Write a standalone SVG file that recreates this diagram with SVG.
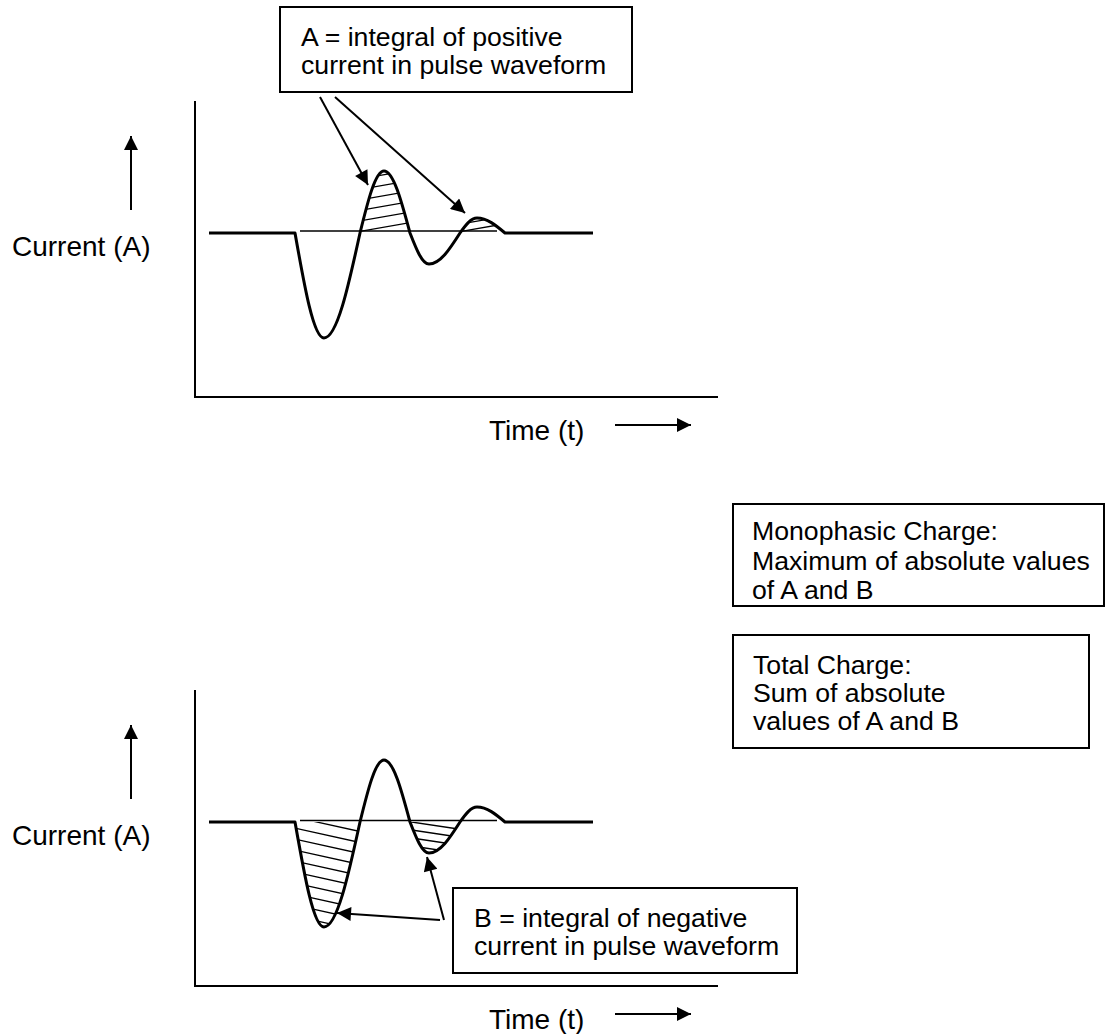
<svg xmlns="http://www.w3.org/2000/svg" width="1105" height="1034" viewBox="0 0 1105 1034">
<style>
text{font-family:"Liberation Sans",Arial,sans-serif;font-size:26.67px;fill:#000}
.ax{font-size:28px}
.box{fill:#fff;stroke:#000;stroke-width:2}
.axis{stroke:#000;stroke-width:2;fill:none}
.wave{stroke:#000;stroke-width:3;fill:none;stroke-linejoin:round}
.thin{stroke:#000;stroke-width:1.3;fill:none}
.hatch{stroke:#000;stroke-width:1.3}
.arr{stroke:#000;stroke-width:2;fill:none}
</style>
<defs>
<marker id="ahL" viewBox="0 0 10 10" refX="10" refY="5" markerWidth="17" markerHeight="14" markerUnits="userSpaceOnUse" orient="auto">
<path d="M0,0 L10,5 L0,10 Z" fill="#000"/>
</marker>
<clipPath id="cA1"><path d="M360,233 C367.8,201.3 375.3,171 384,171 C393.4,171 401.5,201.3 410,233 Z"/></clipPath>
<clipPath id="cA2"><path d="M460,233 C465.5,225.3 470.8,218 477,218 C487.1,218 495.9,225.3 505,233 Z"/></clipPath>
<clipPath id="cB1"><path d="M295,822 C304.5,875.8 313.5,927 324,927 C337,927 348.3,875.8 360,822 Z"/></clipPath>
<clipPath id="cB2"><path d="M410,822 C416.2,837.9 422.1,853 429,853 C440.2,853 449.9,837.9 460,822 Z"/></clipPath>
</defs>

<g id="plotA">
<path class="axis" d="M195,101 L195,397 L718,397"/>
<line class="axis" x1="131" y1="210" x2="131" y2="136" marker-end="url(#ahL)"/>
<text class="ax" x="12" y="256">Current (A)</text>
<text class="ax" x="489" y="440">Time (t)</text>
<line class="axis" x1="615" y1="425" x2="691" y2="425" marker-end="url(#ahL)"/>
<line class="thin" x1="300" y1="231" x2="497" y2="231"/>
<g clip-path="url(#cA1)">
<path class="hatch" d="M350,233 L420,221 M350,222.5 L420,210.5 M350,212 L420,200 M350,201.5 L420,189.5 M350,191 L420,179 M350,180.5 L420,168.5 M350,170 L420,158"/>
</g>
<g clip-path="url(#cA2)">
<path class="hatch" d="M455,232.5 L510,222.9 M455,225 L510,215.4"/>
</g>
<path class="wave" d="M209,233 L295,233 C304.5,286.8 313.5,338 324,338 C337,338 348.3,286.8 360,233 C367.8,201.3 375.3,171 384,171 C393.4,171 401.5,201.3 410,233 C416.2,248.9 422.1,264 429,264 C440.2,264 449.9,248.9 460,233 C465.5,225.3 470.8,218 477,218 C487.1,218 495.9,225.3 505,233 L593,233"/>
</g>

<g id="plotB">
<path class="axis" d="M195,690 L195,986 L718,986"/>
<line class="axis" x1="131" y1="799" x2="131" y2="725" marker-end="url(#ahL)"/>
<text class="ax" x="12" y="845">Current (A)</text>
<text class="ax" x="489" y="1029">Time (t)</text>
<line class="axis" x1="615" y1="1014" x2="691" y2="1014" marker-end="url(#ahL)"/>
<line class="thin" x1="300" y1="820.5" x2="497" y2="820.5"/>
<g clip-path="url(#cB1)">
<path class="hatch" d="M285,815 L365,832.6 M285,826 L365,843.6 M285,837 L365,854.6 M285,848 L365,865.6 M285,859 L365,876.6 M285,870 L365,887.6 M285,881 L365,898.6 M285,892 L365,909.6 M285,903 L365,920.6 M285,914 L365,931.6"/>
</g>
<g clip-path="url(#cB2)">
<path class="hatch" d="M405,821 L465,830 M405,829 L465,838 M405,837 L465,846 M405,845 L465,854"/>
</g>
<path class="wave" d="M209,822 L295,822 C304.5,875.8 313.5,927 324,927 C337,927 348.3,875.8 360,822 C367.8,790.3 375.3,760 384,760 C393.4,760 401.5,790.3 410,822 C416.2,837.9 422.1,853 429,853 C440.2,853 449.9,837.9 460,822 C465.5,814.3 470.8,807 477,807 C487.1,807 495.9,814.3 505,822 L593,822"/>
</g>

<g id="boxA">
<rect class="box" x="280" y="7" width="352" height="85"/>
<text x="301" y="46">A = integral of positive</text>
<text x="301" y="74">current in pulse waveform</text>
</g>

<g id="boxB">
<rect class="box" x="453" y="888" width="344" height="85"/>
<text x="474" y="927">B = integral of negative</text>
<text x="474" y="955">current in pulse waveform</text>
</g>

<g id="boxMono">
<rect class="box" x="733" y="504" width="371" height="102"/>
<text x="752" y="540">Monophasic Charge:</text>
<text x="752" y="570">Maximum of absolute values</text>
<text x="752" y="599">of A and B</text>
</g>

<g id="boxTotal">
<rect class="box" x="733" y="635" width="356" height="113"/>
<text x="753" y="674">Total Charge:</text>
<text x="753" y="702">Sum of absolute</text>
<text x="753" y="730">values of A and B</text>
</g>

<g id="connectors">
<line class="arr" x1="320" y1="97" x2="368" y2="185" marker-end="url(#ahL)"/>
<line class="arr" x1="335" y1="97" x2="465" y2="213" marker-end="url(#ahL)"/>
<line class="arr" x1="440" y1="920" x2="337" y2="913" marker-end="url(#ahL)"/>
<line class="arr" x1="444" y1="920" x2="427" y2="857" marker-end="url(#ahL)"/>
</g>
</svg>
